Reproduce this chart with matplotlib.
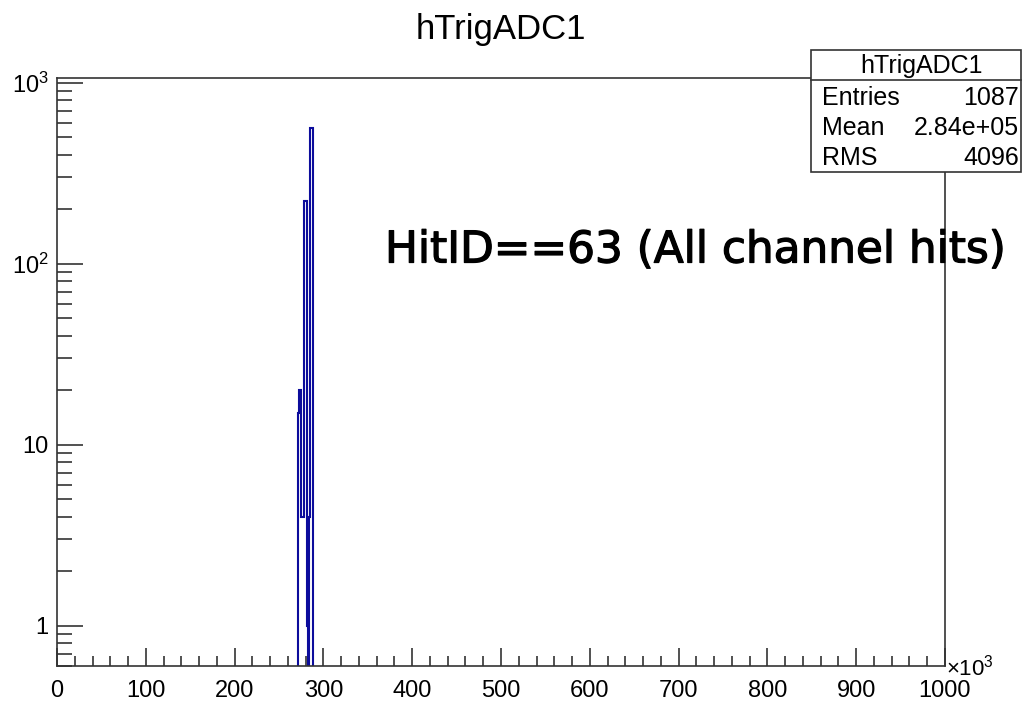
import numpy as np
import matplotlib.pyplot as plt
import matplotlib.patheffects as pe
from matplotlib.ticker import MultipleLocator, FixedLocator, FixedFormatter, LogLocator

plt.rcParams['font.family'] = ['Liberation Sans', 'DejaVu Sans']
plt.rcParams['mathtext.fontset'] = 'custom'
plt.rcParams['mathtext.rm'] = 'Liberation Sans'
plt.rcParams['mathtext.it'] = 'Liberation Sans'

# bin edges (x10^3) and counts
edges = [271.0, 273.0, 274.6, 278.5, 281.0, 283.0, 283.8, 285.3, 288.8]
counts = [15, 20, 4, 223, 1, 0, 4, 564]

title = "hTrigADC1"
stat_names = ["Entries", "Mean", "RMS"]
stat_values = ["1087", "2.84e+05", "4096"]
note = "HitID==63 (All channel hits)"

ytick_vals = [1, 10, 100, 1000]
ytick_labels = ["1", "10", "$10^{2}$", "$10^{3}$"]

fig = plt.figure(figsize=(10.23, 7.09), dpi=100)
ax = fig.add_axes([57/1023, 43/709, 888/1023, 588/709])

vals = np.where(np.array(counts) > 0, counts, 1e-3)
ax.stairs(vals, edges, baseline=1e-3, color='#0c0c9c', linewidth=1.5)

ax.set_yscale('log')
ax.set_xlim(0, 1000)
ax.set_ylim(0.6, 1060)

ax.xaxis.set_major_locator(MultipleLocator(100))
ax.xaxis.set_minor_locator(MultipleLocator(20))
ax.yaxis.set_major_locator(FixedLocator(ytick_vals))
ax.yaxis.set_major_formatter(FixedFormatter(ytick_labels))
ax.yaxis.set_minor_locator(LogLocator(base=10, subs=np.arange(2, 10)))
ax.yaxis.set_minor_formatter(plt.NullFormatter())

ax.tick_params(axis='both', which='both', direction='in', top=False, right=False,
               color='#333333', labelsize=17, width=1.2)
ax.tick_params(axis='x', which='major', length=13, pad=10)
ax.tick_params(axis='x', which='minor', length=7)
ax.tick_params(axis='y', which='major', length=19, pad=6)
ax.tick_params(axis='y', which='minor', length=11)
for s in ax.spines.values():
    s.set_color('#333333')
    s.set_linewidth(1.2)

fig.text(501/1023, 1 - 30/709, title, ha='center', va='center', fontsize=25)
fig.text(946/1023, 1 - 668/709, r"$\times10^{3}$", ha='left', va='center', fontsize=16)

# stats box
bx0, bx1 = 811/1023, 1021/1023
by_top, by_bot, by_head = 1 - 50/709, 1 - 172/709, 1 - 80/709
box = plt.Rectangle((bx0, by_bot), bx1 - bx0, by_top - by_bot, transform=fig.transFigure,
                    facecolor='white', edgecolor='#333333', linewidth=1.2, zorder=5)
fig.add_artist(box)
fig.add_artist(plt.Line2D([bx0, bx1], [by_head, by_head], transform=fig.transFigure,
                          color='#333333', linewidth=1.2, zorder=6))
fig.text(922/1023, 1 - 66/709, title, ha='center', va='center', fontsize=18, zorder=7)
for i, (n, v) in enumerate(zip(stat_names, stat_values)):
    y = 1 - (98 + 30 * i) / 709
    fig.text(822/1023, y, n, ha='left', va='center', fontsize=18, zorder=7)
    fig.text(1019/1023, y, v, ha='right', va='center', fontsize=18, zorder=7)

fig.text(385/1023, 1 - 250/709, note, ha='left', va='center', fontsize=31.5,
         family=['DejaVu Sans'], fontweight='normal', zorder=8,
         path_effects=[pe.withStroke(linewidth=0.9, foreground='black')])

fig.savefig('out.png', dpi=100)
